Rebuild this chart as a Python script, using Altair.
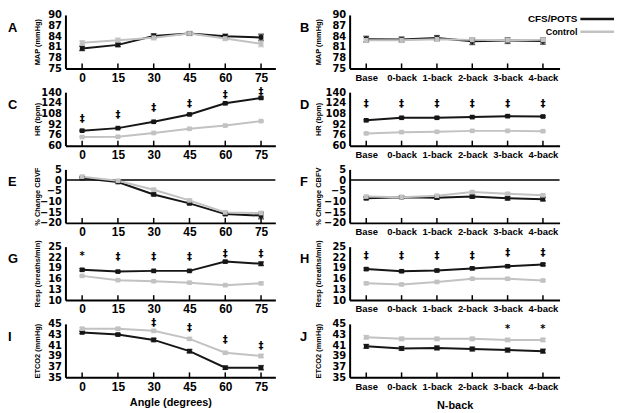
import altair as alt
import pandas as pd

ANGLES = [0, 15, 30, 45, 60, 75]
NBACK = ["Base", "0-back", "1-back", "2-back", "3-back", "4-back"]
GROUPS = ["CFS/POTS", "Control"]
COLORS = ["#161616", "#c2c2c2"]

# ---- values ----
A_cfs = [80.6, 81.6, 84.1, 84.8, 84.0, 83.7]
A_cfs_err = [0.6, 0.5, 0.6, 0.5, 0.6, 0.9]
A_ctl = [82.2, 82.9, 83.6, 84.8, 83.4, 81.9]
A_ctl_err = [0.5, 0.6, 0.6, 0.6, 0.6, 0.8]

B_cfs = [83.2, 83.1, 83.5, 82.6, 82.8, 82.7]
B_cfs_err = [0.8, 0.7, 0.7, 0.9, 0.8, 0.9]
B_ctl = [82.9, 82.9, 83.2, 83.0, 82.9, 83.0]
B_ctl_err = [0.6, 0.6, 0.6, 0.6, 0.6, 0.6]

C_cfs = [82.4, 86.2, 95.7, 106.7, 123.3, 131.4]
C_cfs_err = [1.0, 1.0, 1.0, 1.2, 1.2, 1.4]
C_ctl = [72.9, 73.3, 79.0, 85.2, 90.0, 96.7]
C_ctl_err = [0.9, 0.9, 0.9, 0.9, 0.9, 0.9]
C_sig_x = ANGLES
C_sig_y = [100.5, 106.0, 117.0, 122.0, 135.0, 140.5]
C_sig_t = ["‡", "‡", "‡", "‡", "‡", "‡"]

D_cfs = [97.9, 101.7, 101.7, 102.7, 104.1, 103.6]
D_cfs_err = [1.2, 1.2, 1.2, 1.2, 1.2, 1.2]
D_ctl = [78.3, 80.2, 80.7, 82.1, 82.1, 81.6]
D_ctl_err = [0.9, 0.9, 0.9, 0.9, 0.9, 0.9]
D_sig_x = NBACK
D_sig_y = [122.3, 122.3, 122.3, 122.3, 122.3, 122.3]
D_sig_t = ["‡", "‡", "‡", "‡", "‡", "‡"]

E_cfs = [0.9, -0.9, -6.7, -10.9, -15.9, -16.6]
E_cfs_err = [0.5, 0.4, 0.6, 0.5, 0.5, 1.5]
E_ctl = [1.6, -0.3, -4.5, -9.5, -15.1, -15.4]
E_ctl_err = [0.6, 0.5, 0.6, 0.6, 0.6, 0.7]

F_cfs = [-8.5, -8.0, -8.2, -7.7, -8.5, -8.9]
F_cfs_err = [0.6, 0.5, 0.7, 0.8, 0.8, 0.8]
F_ctl = [-7.7, -8.0, -7.3, -5.6, -6.4, -7.1]
F_ctl_err = [0.5, 0.5, 0.5, 0.5, 0.5, 0.5]

G_cfs = [18.5, 18.0, 18.2, 18.2, 20.8, 20.2]
G_cfs_err = [0.3, 0.2, 0.2, 0.2, 0.3, 0.5]
G_ctl = [16.8, 15.6, 15.3, 14.9, 14.2, 14.7]
G_ctl_err = [0.2, 0.2, 0.2, 0.2, 0.2, 0.3]
G_sig_x = ANGLES
G_sig_y = [22.4, 22.2, 22.2, 22.2, 22.9, 22.9]
G_sig_t = ["*", "‡", "‡", "‡", "‡", "‡"]

H_cfs = [18.7, 18.1, 18.3, 18.9, 19.5, 20.0]
H_cfs_err = [0.3, 0.3, 0.3, 0.3, 0.3, 0.3]
H_ctl = [14.7, 14.4, 15.1, 16.0, 16.0, 15.5]
H_ctl_err = [0.25, 0.25, 0.25, 0.25, 0.25, 0.25]
H_sig_x = NBACK
H_sig_y = [22.4, 22.4, 22.4, 22.4, 23.1, 23.1]
H_sig_t = ["‡", "‡", "‡", "‡", "‡", "‡"]

I_cfs = [43.4, 43.0, 42.0, 39.9, 36.8, 36.8]
I_cfs_err = [0.2, 0.2, 0.3, 0.3, 0.3, 0.4]
I_ctl = [44.1, 44.1, 43.7, 42.2, 39.6, 39.0]
I_ctl_err = [0.2, 0.2, 0.2, 0.2, 0.2, 0.3]
I_sig_x = [30, 45, 60, 75]
I_sig_y = [45.1, 44.2, 41.9, 40.8]
I_sig_t = ["‡", "‡", "‡", "‡"]

J_cfs = [40.8, 40.4, 40.5, 40.3, 40.1, 39.9]
J_cfs_err = [0.35, 0.35, 0.35, 0.35, 0.35, 0.35]
J_ctl = [42.5, 42.2, 42.2, 42.2, 42.0, 42.0]
J_ctl_err = [0.3, 0.3, 0.3, 0.3, 0.3, 0.3]
J_sig_x = ["3-back", "4-back"]
J_sig_y = [44.1, 44.1]
J_sig_t = ["*", "*"]

MAP_TICKS = [75, 78, 81, 84, 87, 90]
HR_TICKS = [60, 76, 92, 108, 124, 140]
CBF_TICKS = [-20, -15, -10, -5, 0, 5]
RESP_TICKS = [10, 13, 16, 19, 22, 25]
ETCO2_TICKS = [35, 37, 39, 41, 43, 45]

W = 212
H = 54
ARIAL = "Liberation Sans"


def panel(side, cfs, cfs_err, ctl, ctl_err, yticks, ytitle, letter,
          sig=None, zero=False, xtitle="", legend=False):
    xs = ANGLES if side == "left" else NBACK
    df = pd.DataFrame({
        "x": xs + xs,
        "group": [GROUPS[0]] * 6 + [GROUPS[1]] * 6,
        "value": cfs + ctl,
        "err": cfs_err + ctl_err,
    })
    df["lo"] = df["value"] - df["err"]
    df["hi"] = df["value"] + df["err"]

    if side == "left":
        xenc = alt.X("x:Q",
                     scale=alt.Scale(domain=[-7, 81], nice=False, zero=False),
                     axis=alt.Axis(values=ANGLES, title=xtitle, ticks=False,
                                   labelFont=ARIAL, labelFontSize=12,
                                   labelFontWeight="bold", labelPadding=4,
                                   titleFont=ARIAL, titleFontSize=11,
                                   titleFontWeight="bold", titlePadding=4,
                                   labelColor="black", titleColor="black",
                                   domainColor="black", domainWidth=2))
        lx = -58
    else:
        xenc = alt.X("x:N",
                     scale=alt.Scale(type="point", domain=NBACK, padding=0.47),
                     sort=NBACK,
                     axis=alt.Axis(title=xtitle, ticks=False, labelAngle=0,
                                   labelFont=ARIAL, labelFontSize=9.5,
                                   labelFontWeight="bold", labelPadding=4,
                                   titleFont=ARIAL, titleFontSize=11,
                                   titleFontWeight="bold", titlePadding=9,
                                   labelColor="black", titleColor="black",
                                   domainColor="black", domainWidth=2))
        lx = -50

    yscale = alt.Scale(domain=[yticks[0], yticks[-1]], nice=False, zero=False)
    yaxis = alt.Axis(values=yticks, title=ytitle, ticks=False,
                     labelFont="DejaVu Sans", labelFontSize=10,
                     labelFontWeight="bold", labelPadding=4,
                     labelOverlap=False, labelColor="black",
                     titleFont=ARIAL, titleFontSize=7.5, titleFontWeight="bold",
                     titleColor="black", titleX=(-28.5 if side == "left" else -31),
                     titleY=H / 2, titleAngle=270, titleAlign="center",
                     titleBaseline="middle", titleLimit=300,
                     domainColor="black", domainWidth=2, grid=False)
    yenc = alt.Y("value:Q", scale=yscale, axis=yaxis)
    color = alt.Color("group:N", scale=alt.Scale(domain=GROUPS, range=COLORS),
                      legend=None)

    base = alt.Chart(df)
    layers = []
    if zero:
        layers.append(alt.Chart(pd.DataFrame({"y": [0]})).mark_rule(
            color="black", strokeWidth=1.5).encode(
            y=alt.Y("y:Q", scale=yscale, axis=yaxis)))
    # inner x ticks
    layers.append(alt.Chart(pd.DataFrame({"x": xs})).mark_rule(
        color="black", strokeWidth=1.5).encode(
        x=xenc, y=alt.value(H - 5), y2=alt.value(H + 1)))
    layers.append(base.mark_rule(strokeWidth=1.4).encode(
        x=xenc, y=alt.Y("lo:Q", scale=yscale, axis=yaxis), y2="hi:Q", color=color))
    for f in ["lo", "hi"]:
        layers.append(base.mark_tick(orient="horizontal", size=6, thickness=1.4).encode(
            x=xenc, y=alt.Y(f + ":Q", scale=yscale, axis=yaxis), color=color))
    layers.append(base.mark_line(strokeWidth=2).encode(
        x=xenc, y=yenc, color=color, detail="group:N"))
    layers.append(base.mark_square(size=22, opacity=1).encode(
        x=xenc, y=yenc, color=color))
    if sig is not None:
        sdf = pd.DataFrame({"x": sig[0], "y": sig[1], "t": sig[2]})
        layers.append(alt.Chart(sdf).mark_text(
            font="DejaVu Sans", fontSize=10, fontWeight="bold", color="black",
            fill="black", baseline="middle").encode(
            x=xenc, y=alt.Y("y:Q", scale=yscale, axis=yaxis), text="t:N"))
    layers.append(alt.Chart(pd.DataFrame({"t": [letter]})).mark_text(
        font=ARIAL, fontSize=13, fontWeight="bold", color="black",
        align="left", baseline="middle").encode(
        x=alt.value(lx), y=alt.value(13), text="t:N"))
    if legend:
        for name, col, yy, fs in [(GROUPS[0], COLORS[0], 4, 10), (GROUPS[1], COLORS[1], 17, 9)]:
            ldf = pd.DataFrame({"t": [name]})
            layers.append(alt.Chart(ldf).mark_text(
                font=ARIAL, fontSize=fs, fontWeight="bold", color="black",
                align="right", baseline="middle").encode(
                x=alt.value(230), y=alt.value(yy), text="t:N"))
            layers.append(alt.Chart(ldf).mark_rule(color=col, strokeWidth=2.5).encode(
                x=alt.value(233), x2=alt.value(267), y=alt.value(yy)))
    return alt.layer(*layers).properties(width=W, height=H)


panels = [
    panel("left", A_cfs, A_cfs_err, A_ctl, A_ctl_err, MAP_TICKS, "MAP (mmHg)", "A"),
    panel("right", B_cfs, B_cfs_err, B_ctl, B_ctl_err, MAP_TICKS, "MAP (mmHg)", "B",
          legend=True),
    panel("left", C_cfs, C_cfs_err, C_ctl, C_ctl_err, HR_TICKS, "HR (bpm)", "C",
          sig=(C_sig_x, C_sig_y, C_sig_t)),
    panel("right", D_cfs, D_cfs_err, D_ctl, D_ctl_err, HR_TICKS, "HR (bpm)", "D",
          sig=(D_sig_x, D_sig_y, D_sig_t)),
    panel("left", E_cfs, E_cfs_err, E_ctl, E_ctl_err, CBF_TICKS, "% Change CBVF", "E",
          zero=True),
    panel("right", F_cfs, F_cfs_err, F_ctl, F_ctl_err, CBF_TICKS, "% Change CBFV", "F",
          zero=True),
    panel("left", G_cfs, G_cfs_err, G_ctl, G_ctl_err, RESP_TICKS, "Resp (breaths/min)", "G",
          sig=(G_sig_x, G_sig_y, G_sig_t)),
    panel("right", H_cfs, H_cfs_err, H_ctl, H_ctl_err, RESP_TICKS, "Resp (breaths/min)", "H",
          sig=(H_sig_x, H_sig_y, H_sig_t)),
    panel("left", I_cfs, I_cfs_err, I_ctl, I_ctl_err, ETCO2_TICKS, "ETCO2 (mmHg)", "I",
          sig=(I_sig_x, I_sig_y, I_sig_t), xtitle="Angle (degrees)"),
    panel("right", J_cfs, J_cfs_err, J_ctl, J_ctl_err, ETCO2_TICKS, "ETCO2 (mmHg)", "J",
          sig=(J_sig_x, J_sig_y, J_sig_t), xtitle="N-back"),
]

chart = alt.concat(*panels, columns=2, spacing={"row": 24, "column": 75},
                   bounds="flush").properties(padding=0).configure_view(
    stroke=None).configure_axis(grid=False)

chart.save("out.html", embed_options={"renderer": "svg", "actions": False})
